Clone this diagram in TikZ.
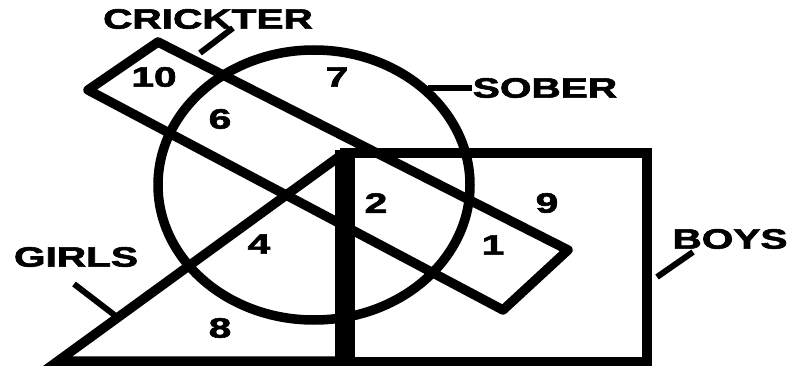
\documentclass[tikz,border=0pt]{standalone}
\usepackage{fontspec}
\setmainfont{Liberation Sans}
\newfontfamily\heavyfont{Liberation Sans}[BoldFeatures={FakeBold=2}]
\tikzset{
  shape line/.style={line width=9.5pt, line join=round},
  lab/.style={inner sep=0pt, font=\fontsize{28}{28}\selectfont\heavyfont\bfseries, anchor=center},
  num/.style={inner sep=0pt, font=\fontsize{28}{28}\selectfont\heavyfont\bfseries, anchor=center},
  leader/.style={line width=6pt}
}
\newcommand{\wide}[1]{\scalebox{1.45}[1]{#1}}
\begin{document}
\begin{tikzpicture}[x=1pt,y=-1pt]
\useasboundingbox (0,0) rectangle (792,366);
% SOBER ellipse
\draw[shape line] (314,185) ellipse [x radius=156, y radius=135];
% BOYS rectangle
\draw[shape line, line join=miter] (345,153) rectangle (647,362);
% GIRLS triangle
\draw[shape line, line join=miter] (345,361) -- (58,361) -- (340,156);
% thick separator
\fill (335,150) rectangle (355,366);
% CRICKTER box
\draw[shape line] (158,42) -- (568,250) -- (503,310) -- (88,90) -- cycle;
% labels
\node[lab] (crick) at (208,19) {\wide{CRICKTER}};
\node[lab] (sober) at (545,88) {\wide{SOBER}};
\node[lab] (boys) at (730,239) {\wide{BOYS}};
\node[lab] (girls) at (76,257) {\wide{GIRLS}};
% leaders
\coordinate (c1) at (200,53); \coordinate (c2) at (233,28);
\coordinate (s1) at (428,88); \coordinate (s2) at (472,88);
\coordinate (b1) at (657,277); \coordinate (b2) at (693,252);
\coordinate (g1) at (74,284); \coordinate (g2) at (117,317);
\draw[leader] (c1) -- (c2);
\draw[leader] (s1) -- (s2);
\draw[leader] (b1) -- (b2);
\draw[leader] (g1) -- (g2);
% numbers
\node[num] (n10) at (154,77) {\wide{10}};
\node[num] (n7) at (337,77) {\wide{7}};
\node[num] (n6) at (220,119) {\wide{6}};
\node[num] (n2) at (376,203) {\wide{2}};
\node[num] (n9) at (547,203) {\wide{9}};
\node[num] (n4) at (259,244) {\wide{4}};
\node[num] (n1) at (493,245) {\wide{1}};
\node[num] (n8) at (220,328) {\wide{8}};
\end{tikzpicture}
\end{document}
